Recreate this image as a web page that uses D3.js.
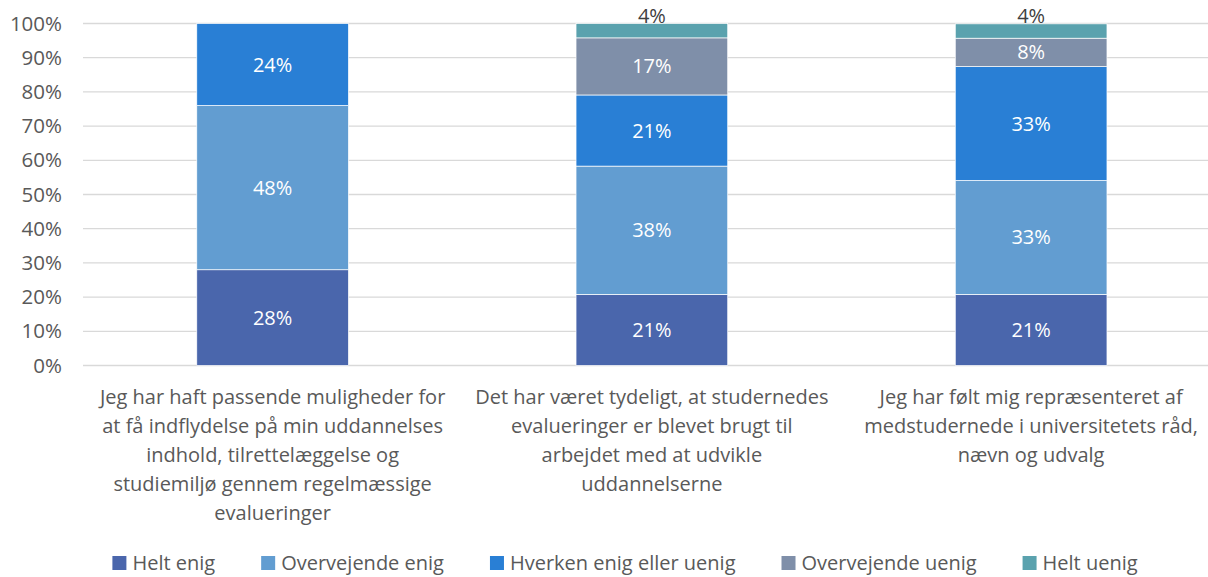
<!DOCTYPE html>
<html>
<head>
<meta charset="utf-8">
<script src="https://cdn.jsdelivr.net/npm/d3@7"></script>
<style>
    body { margin: 0; background: #fff; }
    svg { display: block; font-family: "Open Sans", Lato, sans-serif; }
</style>
</head>
<body>
<svg id="vis" width="1208" height="577"></svg>
<script>
// chart data
const categories = [
    ["Jeg har haft passende muligheder for", "at få indflydelse på min uddannelses", "indhold, tilrettelæggelse og", "studiemiljø gennem regelmæssige", "evalueringer"],
    ["Det har været tydeligt, at studernedes", "evalueringer er blevet brugt til", "arbejdet med at udvikle", "uddannelserne"],
    ["Jeg har følt mig repræsenteret af", "medstudernede i universitetets råd,", "nævn og udvalg"]
];
const seriesNames = ["Helt enig", "Overvejende enig", "Hverken enig eller uenig", "Overvejende uenig", "Helt uenig"];
const helt_enig = [28, 20.8, 20.8];
const overvejende_enig = [48, 37.5, 33.3];
const hverken = [24, 20.8, 33.3];
const overvejende_uenig = [0, 16.7, 8.3];
const helt_uenig = [0, 4.2, 4.2];
const yTicks = [0, 10, 20, 30, 40, 50, 60, 70, 80, 90, 100];

const colors = ["#4A66AC", "#629DD1", "#297FD5", "#7F8FA9", "#5AA2AE"];
const FONT = 20;

const svg = d3.select('#vis');
const plotLeft = 83, plotRight = 1220.75, plotTop = 23.5, plotBottom = 365.5;

const rows = categories.map(function (c, i) {
    return {
        key: i,
        "Helt enig": helt_enig[i],
        "Overvejende enig": overvejende_enig[i],
        "Hverken enig eller uenig": hverken[i],
        "Overvejende uenig": overvejende_uenig[i],
        "Helt uenig": helt_uenig[i]
    };
});

const x = d3.scaleBand()
    .domain(d3.range(categories.length))
    .range([plotLeft, plotRight])
    .paddingInner(0.6)
    .paddingOuter(0.3);

const y = d3.scaleLinear().domain([0, 100]).range([plotBottom, plotTop]);

// gridlines
svg.append('g')
    .selectAll('line')
    .data(yTicks)
    .enter().append('line')
    .attr('x1', plotLeft)
    .attr('x2', 1208)
    .attr('y1', function (d) { return y(d); })
    .attr('y2', function (d) { return y(d); })
    .attr('stroke', '#d9d9d9')
    .attr('stroke-width', 1.3);

// y axis labels
const yAxis = svg.append('g')
    .attr('transform', 'translate(62,0)')
    .call(d3.axisLeft(y).tickValues(yTicks).tickSize(0).tickPadding(0)
        .tickFormat(function (d) { return d + '%'; }));
yAxis.select('.domain').remove();
yAxis.selectAll('text')
    .attr('fill', '#595959')
    .style('font-size', (FONT + 0.5) + 'px')
    .style('font-family', '"Open Sans", Lato, sans-serif');

// stacked bars
const stacked = d3.stack().keys(seriesNames)(rows);

const layer = svg.selectAll('.layer')
    .data(stacked)
    .enter().append('g')
    .attr('class', 'layer')
    .attr('fill', function (d, i) { return colors[i]; });

layer.selectAll('rect')
    .data(function (d) { return d.filter(function (s) { return s[1] - s[0] > 0; }); })
    .enter().append('rect')
    .attr('x', function (d) { return x(d.data.key); })
    .attr('width', x.bandwidth())
    .attr('y', function (d) { return y(d[1]); })
    .attr('height', function (d) { return y(d[0]) - y(d[1]); })
    .attr('stroke', '#ffffff')
    .attr('stroke-width', 0.7);

// data labels (small top segments get their label above the bar)
layer.selectAll('text')
    .data(function (d) { return d.filter(function (s) { return s[1] - s[0] > 0; }); })
    .enter().append('text')
    .attr('x', function (d) { return x(d.data.key) + x.bandwidth() / 2; })
    .attr('y', function (d) {
        if (d[1] - d[0] < 6) {
            return y(d[1]) - 8;
        }
        return (y(d[0]) + y(d[1])) / 2;
    })
    .attr('dy', '0.35em')
    .attr('text-anchor', 'middle')
    .attr('fill', function (d) { return (d[1] - d[0] < 6) ? '#404040' : '#ffffff'; })
    .style('font-size', FONT + 'px')
    .text(function (d) { return Math.round(d[1] - d[0]) + '%'; });

// category labels
const catG = svg.append('g');
categories.forEach(function (lines, i) {
    const t = catG.append('text')
        .attr('text-anchor', 'middle')
        .attr('fill', '#595959')
        .style('font-size', FONT + 'px');
    lines.forEach(function (line, j) {
        t.append('tspan')
            .attr('x', x(i) + x.bandwidth() / 2)
            .attr('y', 404 + j * 29)
            .text(line);
    });
});

// legend
const legend = svg.append('g');
let lx = 0;
seriesNames.forEach(function (name, i) {
    const g = legend.append('g').attr('transform', 'translate(' + lx + ',0)');
    g.append('rect')
        .attr('x', 0)
        .attr('y', -7)
        .attr('width', 14)
        .attr('height', 14)
        .attr('fill', colors[i]);
    const t = g.append('text')
        .attr('x', 20)
        .attr('dy', '0.35em')
        .attr('fill', '#595959')
        .style('font-size', FONT + 'px')
        .text(name);
    lx += 20 + t.node().getComputedTextLength() + 46;
});
lx -= 46;
legend.attr('transform', 'translate(' + (625 - lx / 2) + ',563)');
</script>
</body>
</html>
